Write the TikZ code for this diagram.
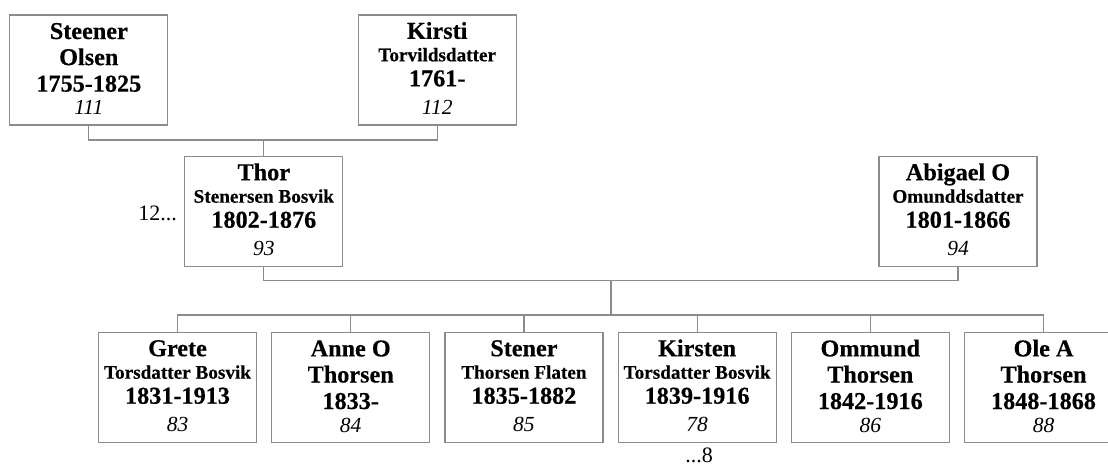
\documentclass[tikz,border=0pt]{standalone}
\usepackage{fontspec}
\setmainfont{Liberation Serif}[BoldFeatures={FakeBold=0.4}]
\usetikzlibrary{calc}
\definecolor{linegray}{RGB}{140,140,140}
\newcommand{\PersA}[7]{%
  \node[pbox] (#1) at (#2,#3) {};
  \node[bigtxt] (#1-a) at ([yshift=-24.7pt]#1.north) {#4};
  \node[bigtxt] (#1-b) at ([yshift=-50.8pt]#1.north) {#5};
  \node[bigtxt] (#1-c) at ([yshift=-77.3pt]#1.north) {#6};
  \node[numtxt] (#1-d) at ([yshift=-100.3pt]#1.north) {#7};
}
\newcommand{\PersB}[7]{%
  \node[pbox] (#1) at (#2,#3) {};
  \node[bigtxt] (#1-a) at ([yshift=-24.5pt]#1.north) {#4};
  \node[midtxt] (#1-b) at ([yshift=-47pt]#1.north) {#5};
  \node[bigtxt] (#1-c) at ([yshift=-72pt]#1.north) {#6};
  \node[numtxt] (#1-d) at ([yshift=-100pt]#1.north) {#7};
}
\begin{document}
\begin{tikzpicture}[x=1pt,y=-1pt,
  pbox/.style={draw=linegray, line width=1.2pt, fill=white, minimum width=158pt, minimum height=110pt, inner sep=0pt, anchor=north},
  bigtxt/.style={anchor=base, inner sep=0pt, font=\fontsize{24.2}{28}\selectfont\bfseries},
  midtxt/.style={anchor=base, inner sep=0pt, font=\fontsize{19.2}{22}\selectfont\bfseries},
  numtxt/.style={anchor=base, inner sep=0pt, font=\fontsize{21.5}{25}\selectfont\itshape},
  plaintxt/.style={inner sep=0pt, font=\fontsize{22}{26}\selectfont},
  conn/.style={draw=linegray, line width=1.2pt}]
\useasboundingbox (0,0) rectangle (1108,466);
\clip (0,0) rectangle (1108,466);
\fill[white] (0,0) rectangle (1108,466);

% grandparents
\PersA{steener}{88.8}{14.3}{Steener}{Olsen}{1755-1825}{111}
\PersB{kirsti}{437.2}{14.3}{Kirsti}{Torvildsdatter}{1761-}{112}
% parents
\PersB{thor}{263.8}{155.7}{Thor}{Stenersen Bosvik}{1802-1876}{93}
\PersB{abigael}{958}{155.7}{Abigael O}{Omunddsdatter}{1801-1866}{94}
% children
\PersB{grete}{177.5}{331.7}{Grete}{Torsdatter Bosvik}{1831-1913}{83}
\PersA{anne}{350.7}{331.7}{Anne O}{Thorsen}{1833-}{84}
\PersB{stener}{523.9}{331.7}{Stener}{Thorsen Flaten}{1835-1882}{85}
\PersB{kirsten}{697.1}{331.7}{Kirsten}{Torsdatter Bosvik}{1839-1916}{78}
\PersA{ommund}{870.3}{331.7}{Ommund}{Thorsen}{1842-1916}{86}
\PersA{ole}{1043.5}{331.7}{Ole A}{Thorsen}{1848-1868}{88}

% connectors
\coordinate (j1) at (263.8,140);
\draw[conn] (steener.south) |- (j1) -| (kirsti.south);
\draw[conn] (j1) -- (thor.north);

\coordinate (j2) at (611,280.7);
\draw[conn] (thor.south) |- (j2) -| (abigael.south);
\coordinate (j3) at (611,315);
\draw[conn] (j2) -- (j3);
\draw[conn] (grete.north) |- (j3) -| (ole.north);
\foreach \c in {anne,stener,kirsten,ommund}
  \draw[conn] (\c.north) -- (\c.north |- j3);

% side labels
\node[plaintxt, anchor=base east] (more12) at (177,220) {12...};
\node[plaintxt, anchor=base] (more8) at (699,462) {...8};
\end{tikzpicture}
\end{document}
